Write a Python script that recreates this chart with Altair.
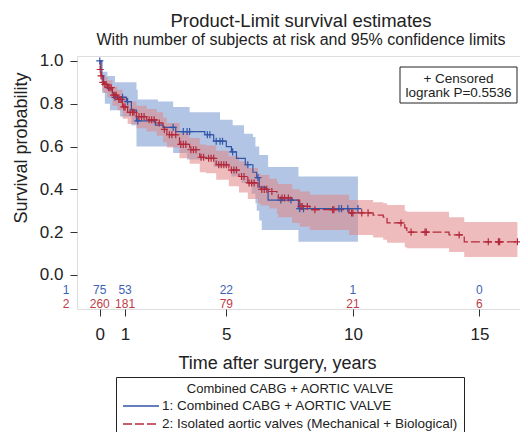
import altair as alt
import numpy as np
import pandas as pd

# ---------------- data ----------------
LAB1 = "1: Combined CABG + AORTIC VALVE"
LAB2 = "2: Isolated aortic valves (Mechanical + Biological)"

# group 1 KM step curve
blue_t = [0, 0.08, 0.15, 0.3, 0.5, 0.55, 1.05, 1.25, 1.45, 2.2, 2.5, 3.0, 4.15, 4.5, 5.0,
          5.2, 5.4, 5.75, 6.05, 6.2, 6.3, 6.55, 6.65, 7.85, 10.2]
blue_s = [1.0, 0.93, 0.89, 0.87, 0.85, 0.83, 0.81, 0.77, 0.72, 0.70, 0.69, 0.67, 0.655, 0.625, 0.60,
          0.575, 0.545, 0.515, 0.48, 0.455, 0.41, 0.40, 0.35, 0.31, 0.31]
# group 1 95% band
bb_t = [0, 0.1, 0.2, 0.3, 0.4, 0.6, 0.8, 1.25, 1.45, 1.5, 2.3, 2.9, 3.45, 3.55, 4.5, 4.75, 5.2,
        5.25, 5.6, 5.7, 6.0, 6.05, 6.15, 6.2, 6.3, 6.4, 6.65, 7.85, 10.2]
bb_hi = [1.0, 0.95, 0.95, 0.93, 0.93, 0.90, 0.90, 0.90, 0.865, 0.82, 0.81, 0.785, 0.785, 0.76, 0.76,
         0.725, 0.725, 0.70, 0.70, 0.66, 0.66, 0.645, 0.60, 0.60, 0.56, 0.56, 0.505, 0.46, 0.46]
bb_lo = [1.0, 0.85, 0.80, 0.80, 0.77, 0.77, 0.74, 0.70, 0.60, 0.60, 0.60, 0.57, 0.54, 0.54, 0.505,
         0.505, 0.46, 0.46, 0.43, 0.43, 0.38, 0.38, 0.335, 0.30, 0.255, 0.21, 0.21, 0.155, 0.155]
blue_cens = [0, 0.6, 0.9, 1.1, 1.5, 2.9, 3.3, 3.45, 3.55, 4.25, 4.35, 4.6, 4.75, 4.85, 5.25, 5.85,
             6.25, 7.15, 7.55, 7.9, 8.05, 9.45, 9.55, 9.8, 10.2]

# group 2 KM step curve and band
red_t = [0, 0.02, 0.05, 0.1, 0.15, 0.3, 0.5, 0.7, 0.9, 1.1, 1.45, 1.85, 2.25, 2.5, 2.65, 3.15,
         3.55, 3.95, 4.2, 4.6, 5.1, 5.5, 5.85, 6.25, 6.35, 6.7, 7.0, 7.05, 7.6, 7.9, 8.3, 9.85,
         10.8, 11.2, 11.35, 12.05, 12.13, 13.8, 14.4, 16.5]
red_s = [1.0, 0.96, 0.93, 0.90, 0.89, 0.875, 0.84, 0.82, 0.785, 0.76, 0.74, 0.725, 0.71, 0.68,
         0.655, 0.61, 0.585, 0.55, 0.545, 0.515, 0.49, 0.46, 0.43, 0.41, 0.40, 0.39, 0.375, 0.36,
         0.35, 0.32, 0.305, 0.29, 0.28, 0.27, 0.243, 0.22, 0.20, 0.187, 0.155, 0.155]
red_lo = [1.0, 0.93, 0.90, 0.86, 0.85, 0.83, 0.79, 0.77, 0.73, 0.705, 0.685, 0.67, 0.65, 0.62,
          0.595, 0.545, 0.52, 0.48, 0.475, 0.445, 0.415, 0.385, 0.355, 0.335, 0.325, 0.31, 0.285,
          0.27, 0.243, 0.225, 0.21, 0.187, 0.175, 0.165, 0.15, 0.13, 0.125, 0.107, 0.084, 0.084]
red_hi = [1.0, 0.985, 0.96, 0.935, 0.925, 0.91, 0.88, 0.865, 0.835, 0.81, 0.79, 0.775, 0.76, 0.735,
          0.71, 0.665, 0.64, 0.61, 0.605, 0.58, 0.555, 0.53, 0.50, 0.475, 0.467, 0.45, 0.435, 0.425,
          0.40, 0.39, 0.375, 0.35, 0.34, 0.335, 0.327, 0.30, 0.295, 0.27, 0.248, 0.248]
red_cens = [0.02, 0.05, 0.12, 0.2, 0.25, 0.35, 0.4, 0.45, 0.55, 0.6, 0.65, 0.75, 0.8, 0.85, 0.95,
            1.0, 1.2, 1.3, 1.35, 1.55, 1.65, 1.75, 1.95, 2.05, 2.15, 2.35, 2.55, 2.75, 2.85, 3.0,
            3.2, 3.3, 3.4, 3.6, 3.7, 3.8, 4.0, 4.1, 4.3, 4.4, 4.5, 4.7, 4.8, 4.9, 5.0, 5.2, 5.3,
            5.4, 5.6, 5.7, 5.9, 6.0, 6.1, 6.4, 6.5, 6.6, 6.8, 7.2, 7.3, 7.45, 7.95, 8.0, 8.2, 8.5,
            9.2, 9.25, 9.95, 10.0, 10.35, 10.6, 11.9, 12.3, 12.85, 12.9, 14.2, 15.35, 15.75, 15.8,
            16.5]

# numbers at risk
risk_t = [0, 1, 5, 10, 15]
risk_blue = [75, 53, 22, 1, 0]
risk_red = [260, 181, 79, 21, 6]

# ---------------- tables ----------------
def step_at(ts, ss, q):
    idx = np.searchsorted(np.array(ts), np.array(q), side="right") - 1
    return [ss[i] for i in idx]

curves = pd.concat([
    pd.DataFrame({"t": blue_t, "s": blue_s, "group": LAB1, "o": range(len(blue_t))}),
    pd.DataFrame({"t": red_t, "s": red_s, "group": LAB2, "o": range(len(red_t))}),
])
band_blue = pd.DataFrame({"t": bb_t, "lo": bb_lo, "hi": bb_hi})
band_red = pd.DataFrame({"t": red_t, "lo": red_lo, "hi": red_hi})
cens_blue = pd.DataFrame({"t": blue_cens, "s": step_at(blue_t, blue_s, blue_cens)})
cens_red = pd.DataFrame({"t": red_cens, "s": step_at(red_t, red_s, red_cens)})
risk_b = pd.DataFrame({"t": risk_t, "n": [str(v) for v in risk_blue]})
risk_r = pd.DataFrame({"t": risk_t, "n": [str(v) for v in risk_red]})

# ---------------- style ----------------
FONT = "Liberation Sans"
BLUE = "#3355a8"
RED = "#b3283a"
BLUE_TXT = "#3d62b3"
RED_TXT = "#c03c48"
TXT = "#222222"

W, H = 443, 253
xs = alt.Scale(domain=[-0.9, -0.9 + W / 25.31], nice=False, zero=False)
ys = alt.Scale(domain=[-0.159, 1.023], nice=False, zero=False)

x_axis = alt.Axis(values=[0, 1, 5, 10, 15], title="Time after surgery, years", labelFontSize=17,
                  titleFontSize=18, titleFontWeight="normal", tickSize=7, labelPadding=10,
                  domain=False, grid=False, titleX=200, titleY=59, titleBaseline="alphabetic",
                  labelColor=TXT, titleColor=TXT, tickColor="#333", labelFont=FONT, titleFont=FONT)
y_axis = alt.Axis(values=[0, 0.2, 0.4, 0.6, 0.8, 1.0], format=".1f", title="Survival probability",
                  labelFontSize=17, titleFontSize=18, titleFontWeight="normal", tickSize=7,
                  labelPadding=7, domain=False, grid=False, titleX=-51, titleY=91.5,
                  titleAngle=270, titleBaseline="alphabetic", titleAlign="center",
                  labelColor=TXT, titleColor=TXT, tickColor="#333", labelFont=FONT, titleFont=FONT)

X = alt.X("t:Q", scale=xs, axis=x_axis)

band1 = alt.Chart(band_blue).mark_area(interpolate="step-after", color="#7f9fd3", opacity=0.6).encode(
    x=X, y=alt.Y("lo:Q", scale=ys, axis=y_axis), y2="hi:Q")
band2 = alt.Chart(band_red).mark_area(interpolate="step-after", color="#e08585", opacity=0.55).encode(
    x=X, y=alt.Y("lo:Q", scale=ys, axis=y_axis), y2="hi:Q")

leg = alt.Legend(title="Combined CABG + AORTIC VALVE", orient="none", legendX=39, legendY=321,
                 symbolType="M-1,0L5,0", symbolSize=144, symbolStrokeWidth=1.5,
                 labelFontSize=13.5, labelFont=FONT, labelColor=TXT, labelLimit=0, labelOffset=26,
                 titleFontSize=13, titleFont=FONT, titleFontWeight="normal", titleColor=TXT,
                 titleAnchor="middle", titleLimit=0, titlePadding=3, rowPadding=4,
                 strokeColor="#222", padding=6, fillColor="white")

lines = alt.Chart(curves).mark_line(interpolate="step-after", strokeWidth=1.2).encode(
    x=X, y=alt.Y("s:Q", scale=ys, axis=y_axis), order="o:Q",
    color=alt.Color("group:N", scale=alt.Scale(domain=[LAB1, LAB2], range=[BLUE, RED]), legend=leg),
    strokeDash=alt.StrokeDash("group:N", scale=alt.Scale(domain=[LAB1, LAB2], range=[[1, 0], [9, 3]]),
                              legend=leg))

PLUS = "M-1,0L1,0M0,-1L0,1"
c1 = alt.Chart(cens_blue).mark_point(shape=PLUS, size=50, filled=False, strokeWidth=1.2, color=BLUE,
                                     opacity=1).encode(x=X, y=alt.Y("s:Q", scale=ys, axis=y_axis))
c2 = alt.Chart(cens_red).mark_point(shape=PLUS, size=50, filled=False, strokeWidth=1.2, color=RED,
                                    opacity=1).encode(x=X, y=alt.Y("s:Q", scale=ys, axis=y_axis))

r1 = alt.Chart(risk_b).mark_text(fontSize=12, font=FONT, color=BLUE_TXT, baseline="middle").encode(
    x=X, y=alt.value(234), text="n:N")
r2 = alt.Chart(risk_r).mark_text(fontSize=12, font=FONT, color=RED_TXT, baseline="middle").encode(
    x=X, y=alt.value(248), text="n:N")
g1 = alt.Chart(pd.DataFrame({"lab": ["1"]})).mark_text(fontSize=12, font=FONT, color=BLUE_TXT,
                                                        baseline="middle").encode(
    x=alt.value(-11), y=alt.value(234), text="lab:N")
g2 = alt.Chart(pd.DataFrame({"lab": ["2"]})).mark_text(fontSize=12, font=FONT, color=RED_TXT,
                                                        baseline="middle").encode(
    x=alt.value(-11), y=alt.value(248), text="lab:N")

box = alt.Chart(pd.DataFrame({"k": [0]})).mark_rect(fill="white", stroke="#222", strokeWidth=1).encode(
    x=alt.value(323), x2=alt.value(440), y=alt.value(11), y2=alt.value(47))
inset = alt.Chart(pd.DataFrame({"txt": ["+ Censored", "logrank P=0.5536"], "yy": [27, 41]})).mark_text(
    fontSize=13.5, font=FONT, color=TXT, baseline="alphabetic", align="center").encode(
    x=alt.value(381.5), y=alt.Y("yy:Q", scale=None), text="txt:N")

chart = alt.layer(band1, band2, lines, c1, c2, r1, r2, g1, g2, box, inset).properties(
    width=W, height=H,
    padding={"left": 69, "top": 48, "right": 0, "bottom": 123},
    autosize=alt.AutoSizeParams(type="none"),
    title=alt.TitleParams(text="Product-Limit survival estimates",
                          subtitle="With number of subjects at risk and 95% confidence limits",
                          font=FONT, subtitleFont=FONT, fontSize=18.5, subtitleFontSize=16,
                          fontWeight="normal", color=TXT, subtitleColor=TXT, anchor="middle",
                          offset=4, subtitlePadding=1, dx=2.5),
).configure_view(stroke="#333", strokeWidth=1.2).configure(background="white")

chart.save("out.html", embed_options={"renderer": "svg", "actions": False})
